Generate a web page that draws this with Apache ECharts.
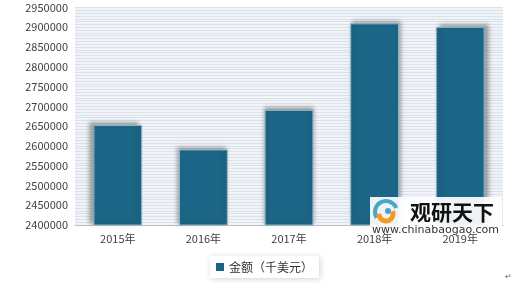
<!DOCTYPE html>
<html><head><meta charset="utf-8">
<script src="https://cdn.jsdelivr.net/npm/echarts@6/dist/echarts.min.js"></script>
<style>html,body{margin:0;padding:0;background:#fff}#c{width:520px;height:283px}</style>
</head><body><div id="c"></div>
<script>
var categories = ['2015年', '2016年', '2017年', '2018年', '2019年'];
var amounts = [2653000, 2591000, 2691000, 2910000, 2901000];
var seriesName = '金额（千美元）';
var yMin = 2400000, yMax = 2950000, yStep = 50000;

var chart = echarts.init(document.getElementById('c'), null, {renderer: 'canvas'});
var font = '"Microsoft YaHei","Noto Sans CJK SC","DejaVu Sans",sans-serif';
chart.setOption({
  animation: false,
  backgroundColor: '#ffffff',
  grid: {left: 75, right: 17, top: 7.5, bottom: 58, show: true, backgroundColor: '#f0f3f7', borderWidth: 0},
  xAxis: {
    type: 'category', data: categories,
    axisLine: {lineStyle: {color: '#bfbfbf'}},
    axisTick: {show: false},
    axisLabel: {color: '#404040', fontSize: 11, fontFamily: font, margin: 8}
  },
  yAxis: {
    type: 'value', min: yMin, max: yMax, interval: yStep,
    axisLine: {show: false}, axisTick: {show: false},
    axisLabel: {color: '#404040', fontSize: 11, fontFamily: font, margin: 7,
      formatter: function (v) { return String(v); }},
    splitLine: {show: true, lineStyle: {color: '#dbe2ea', width: 1}},
    minorTick: {show: false, splitNumber: 7},
    minorSplitLine: {show: true, lineStyle: {color: '#dbe2ea', width: 1}}
  },
  legend: {
    data: [seriesName], left: 210, top: 256,
    icon: 'rect', itemWidth: 8, itemHeight: 8, itemGap: 4,
    itemStyle: {borderWidth: 0, shadowBlur: 0, shadowColor: 'transparent'},
    backgroundColor: '#ffffff', padding: [5, 6, 5, 6],
    shadowColor: 'rgba(0,0,0,0.18)', shadowBlur: 6, shadowOffsetX: 1, shadowOffsetY: 1,
    textStyle: {color: '#333', fontSize: 12, fontFamily: font}
  },
  series: [{
    name: seriesName, type: 'bar', barWidth: '57%',
    data: amounts.map(function (v, i) {
      return {value: v, itemStyle: {shadowOffsetX: (i - 2) * 2}};
    }),
    itemStyle: {
      color: '#1b6587', borderColor: '#8db5c9', borderWidth: 1,
      shadowColor: 'rgba(60,60,60,0.45)', shadowBlur: 4, shadowOffsetY: -2
    }
  }],
  graphic: [
    {type: 'rect', left: 370, top: 197, z: 100, shape: {width: 132, height: 29},
      style: {fill: 'rgba(255,255,255,0.92)'}},
    {type: 'arc', z: 101, shape: {cx: 386, cy: 212, r: 11, startAngle: 2.6, endAngle: 5.9}, style: {stroke: '#4aa3c8', lineWidth: 4, fill: 'none'}},
    {type: 'arc', z: 101, shape: {cx: 386, cy: 214, r: 7, startAngle: -0.4, endAngle: 3.2}, style: {stroke: '#f39a1f', lineWidth: 5, fill: 'none'}},
    {type: 'circle', z: 101, shape: {cx: 388, cy: 211, r: 3}, style: {fill: '#4aa3c8'}},
    {type: 'text', left: 410, top: 202, z: 101, style: {text: '观研天下', fill: '#111', font: 'bold 21px ' + font}},
    {type: 'text', left: 372, top: 225, z: 101, style: {text: 'www.chinabaogao.com', fill: '#333', font: '11px "DejaVu Sans",sans-serif'}},
    {type: 'text', left: 505, top: 273, style: {text: '↵', fill: '#666', font: '8px sans-serif'}}
  ]
});
</script></body></html>
